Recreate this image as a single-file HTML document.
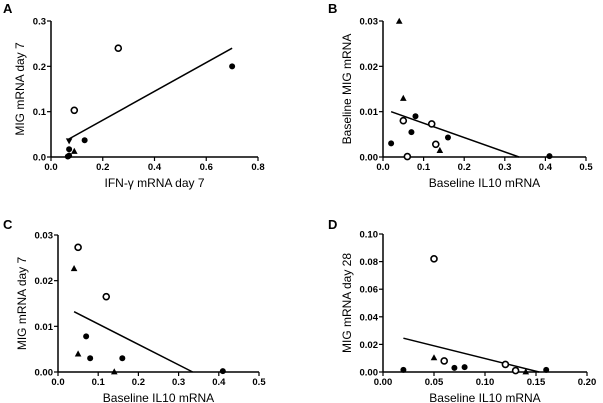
<!DOCTYPE html>
<html><head><meta charset="utf-8"><style>
body{margin:0;background:#fff;}
svg{display:block;font-family:"Liberation Sans",Arial,sans-serif;}
</style></head><body>
<svg id="s" width="603" height="403" viewBox="0 0 603 403"></svg>
<script>
// Panel A
const aXTicks=[0,0.2,0.4,0.6,0.8], aYTicks=[0,0.1,0.2,0.3];
const aXLabels=["0.0","0.2","0.4","0.6","0.8"], aYLabels=["0.0","0.1","0.2","0.3"];
const aOpen=[[0.26,0.24],[0.09,0.103]];
const aFilled=[[0.70,0.20],[0.13,0.037],[0.07,0.017],[0.07,0.003],[0.065,0.001]];
const aTriUp=[[0.09,0.013]];
const aTriDown=[[0.07,0.035]];
const aLine=[[0.07,0.04],[0.70,0.24]];
// Panel B
const bXTicks=[0,0.1,0.2,0.3,0.4,0.5], bYTicks=[0,0.01,0.02,0.03];
const bXLabels=["0.0","0.1","0.2","0.3","0.4","0.5"], bYLabels=["0.00","0.01","0.02","0.03"];
const bOpen=[[0.05,0.008],[0.12,0.0073],[0.13,0.0028],[0.06,0.0001]];
const bFilled=[[0.02,0.003],[0.08,0.009],[0.07,0.0055],[0.16,0.0043],[0.41,0.0002]];
const bTriUp=[[0.04,0.030],[0.05,0.013],[0.14,0.0015]];
const bLine=[[0.02,0.01],[0.335,0]];
// Panel C
const cXTicks=[0,0.1,0.2,0.3,0.4,0.5], cYTicks=[0,0.01,0.02,0.03];
const cXLabels=["0.0","0.1","0.2","0.3","0.4","0.5"], cYLabels=["0.00","0.01","0.02","0.03"];
const cOpen=[[0.05,0.0273],[0.12,0.0165]];
const cFilled=[[0.07,0.0078],[0.08,0.003],[0.16,0.003],[0.41,0.0002]];
const cTriUp=[[0.04,0.0227],[0.05,0.004],[0.14,0.0001]];
const cLine=[[0.04,0.0132],[0.335,0]];
// Panel D
const dXTicks=[0,0.05,0.1,0.15,0.2], dYTicks=[0,0.02,0.04,0.06,0.08,0.1];
const dXLabels=["0.00","0.05","0.10","0.15","0.20"], dYLabels=["0.00","0.02","0.04","0.06","0.08","0.10"];
const dOpen=[[0.05,0.082],[0.06,0.008],[0.12,0.0055],[0.13,0.001]];
const dFilled=[[0.02,0.0015],[0.07,0.003],[0.08,0.0035],[0.16,0.0015]];
const dTriUp=[[0.05,0.0105],[0.14,0.0003]];
const dLine=[[0.02,0.0245],[0.153,0]];

const svg=document.getElementById('s');
const NS='http://www.w3.org/2000/svg';
function mk(tag,attrs,parent){const e=document.createElementNS(NS,tag);for(const k in attrs)e.setAttribute(k,attrs[k]);(parent||svg).appendChild(e);return e;}

function panel(p){
  const g=mk('g',{});
  
  
  const xs=v=>p.x0+(v-p.xmin)/(p.xmax-p.xmin)*(p.x1-p.x0);
  const ys=v=>p.y0-(v-p.ymin)/(p.ymax-p.ymin)*(p.y0-p.y1);
  const lab=mk('text',{x:p.lx,y:p.ly,'font-size':13,'font-weight':'bold'},g);lab.textContent=p.id.toUpperCase();
  
  
  const ya=mk('line',{x1:p.x0,y1:p.y0,x2:p.x0,y2:p.y1,stroke:'#000','stroke-width':1.5},g);
  
  
  const xa=mk('line',{x1:p.x0,y1:p.y0,x2:p.x1,y2:p.y0,stroke:'#000','stroke-width':1.5},g);
  
  
  p.yt.forEach((v,i)=>{const y=ys(v);
    mk('line',{x1:p.x0-4,y1:y,x2:p.x0,y2:y,stroke:'#000','stroke-width':1.2},g);
    const t=mk('text',{x:p.x0-5,y:y+3.5,'font-size':9.5,'font-weight':'bold','text-anchor':'end'},g);t.textContent=p.yl[i];
    
    });
  p.xt.forEach((v,i)=>{const x=xs(v);
    mk('line',{x1:x,y1:p.y0,x2:x,y2:p.y0+4,stroke:'#000','stroke-width':1.2},g);
    const t=mk('text',{x:x,y:p.y0+13,'font-size':9.5,'font-weight':'bold','text-anchor':'middle'},g);t.textContent=p.xl[i];
    
    });
  const xt=mk('text',{x:(p.x0+p.x1)/2,y:p.y0+30,'font-size':12,'text-anchor':'middle'},g);xt.textContent=p.xtitle;
  
  
  const yx=p.x0-p.ytOff, yy=(p.y0+p.y1)/2;
  const yt=mk('text',{x:yx,y:yy,'font-size':12,'text-anchor':'middle',transform:`rotate(-90 ${yx} ${yy})`},g);yt.textContent=p.ytitle;
  
  
  const ln=mk('line',{x1:xs(p.line[0][0]),y1:ys(p.line[0][1]),x2:xs(p.line[1][0]),y2:ys(p.line[1][1]),stroke:'#000','stroke-width':1.5},g);
  
  
  p.open.forEach(d=>{const c=mk('circle',{cx:xs(d[0]),cy:ys(d[1]),r:3,fill:'#fff',stroke:'#000','stroke-width':1.6},g);
    
    });
  p.filled.forEach(d=>{const c=mk('circle',{cx:xs(d[0]),cy:ys(d[1]),r:3,fill:'#000'},g);
    
    });
  (p.up||[]).forEach(d=>{const x=xs(d[0]),y=ys(d[1]);
    const t=mk('polygon',{points:`${x-3.3},${y+2.8} ${x+3.3},${y+2.8} ${x},${y-3.3}`,fill:'#000'},g);
    
    });
  (p.down||[]).forEach(d=>{const x=xs(d[0]),y=ys(d[1]);
    const t=mk('polygon',{points:`${x-3.3},${y-2.8} ${x+3.3},${y-2.8} ${x},${y+3.3}`,fill:'#000'},g);
    
    });
}
panel({id:'a',lx:3,ly:13,x0:51,x1:258,y0:157,y1:21,xmin:0,xmax:0.8,ymin:0,ymax:0.3,xt:aXTicks,xl:aXLabels,yt:aYTicks,yl:aYLabels,
  xtitle:'IFN-γ mRNA day 7',ytitle:'MIG mRNA day 7',ytOff:27,open:aOpen,filled:aFilled,up:aTriUp,down:aTriDown,line:aLine});
panel({id:'b',lx:328,ly:13,x0:383,x1:586,y0:157,y1:21,xmin:0,xmax:0.5,ymin:0,ymax:0.03,xt:bXTicks,xl:bXLabels,yt:bYTicks,yl:bYLabels,
  xtitle:'Baseline IL10 mRNA',ytitle:'Baseline MIG mRNA',ytOff:32,open:bOpen,filled:bFilled,up:bTriUp,line:bLine});
panel({id:'c',lx:3,ly:229,x0:58,x1:259,y0:372,y1:235,xmin:0,xmax:0.5,ymin:0,ymax:0.03,xt:cXTicks,xl:cXLabels,yt:cYTicks,yl:cYLabels,
  xtitle:'Baseline IL10 mRNA',ytitle:'MIG mRNA day 7',ytOff:32,open:cOpen,filled:cFilled,up:cTriUp,line:cLine});
panel({id:'d',lx:328,ly:229,x0:383,x1:587,y0:372,y1:234,xmin:0,xmax:0.2,ymin:0,ymax:0.1,xt:dXTicks,xl:dXLabels,yt:dYTicks,yl:dYLabels,
  xtitle:'Baseline IL10 mRNA',ytitle:'MIG mRNA day 28',ytOff:32,open:dOpen,filled:dFilled,up:dTriUp,line:dLine});
</script>
</body></html>
